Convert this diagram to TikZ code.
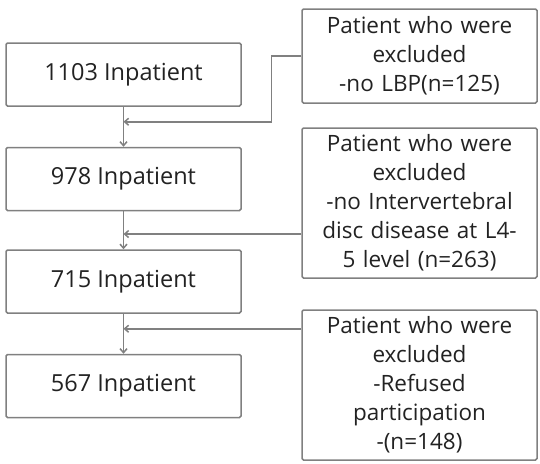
\documentclass[tikz,border=0pt]{standalone}
\usepackage{fontspec}
\setmainfont{Open Sans}
\usepackage{xcolor}
\usepackage{tikz}
\usetikzlibrary{arrows.meta, positioning, calc}
\definecolor{linegray}{HTML}{808080}
\definecolor{textgray}{HTML}{222222}
\begin{document}
\begin{tikzpicture}[x=1pt, y=-1pt,
      inbox/.style={draw=linegray, line width=1.5pt, rounded corners=1.5pt, minimum width=235pt, minimum height=63pt, align=center, text=textgray, font=\fontsize{23.5}{29}\selectfont},
      exbox/.style={draw=linegray, line width=1.5pt, rounded corners=1.5pt, text width=229pt, align=center, text=textgray, inner sep=3pt, font=\fontsize{22.5}{29}\selectfont},
      arrow/.style={-{Straight Barb[length=4pt, width=7pt]}, linegray, line width=1.5pt}
    ]
      \useasboundingbox (0,0) rectangle (540,463);
      \node[inbox] (inp1) at (123.5,74.5) {1103 Inpatient};
      \node[inbox, below=40pt of inp1] (inp2) {978 Inpatient};
      \node[inbox, below=38pt of inp2] (inp3) {715 Inpatient};
      \node[inbox, below=40pt of inp3] (inp4) {567 Inpatient};

      \node[exbox, minimum height=94pt] (excl1) at (419.5,56) {Patient who were\\excluded\\-no LBP(n=125)};
      \node[exbox, minimum height=150pt] (excl2) at (419.5,203) {Patient who were\\excluded\\-no Intervertebral\\disc disease at L4-\\5 level (n=263)};
      \node[exbox, minimum height=150pt] (excl3) at (419.5,385) {Patient who were\\excluded\\-Refused\\participation\\-(n=148)};

      \coordinate (j1) at ($(inp1.south)!0.375!(inp2.north)$);
      \coordinate (j2) at ($(inp2.south)!0.6!(inp3.north)$);
      \coordinate (j3) at ($(inp3.south)!0.375!(inp4.north)$);

      \draw[arrow] (inp1) -- (inp2);
      \draw[arrow] (inp2) -- (inp3);
      \draw[arrow] (inp3) -- (inp4);
      \draw[arrow] (excl1.west) -- ++(-30,0) |- (j1);
      \draw[arrow] (excl2.west |- j2) -- (j2);
      \draw[arrow] (excl3.west |- j3) -- (j3);
    \end{tikzpicture}
\end{document}
